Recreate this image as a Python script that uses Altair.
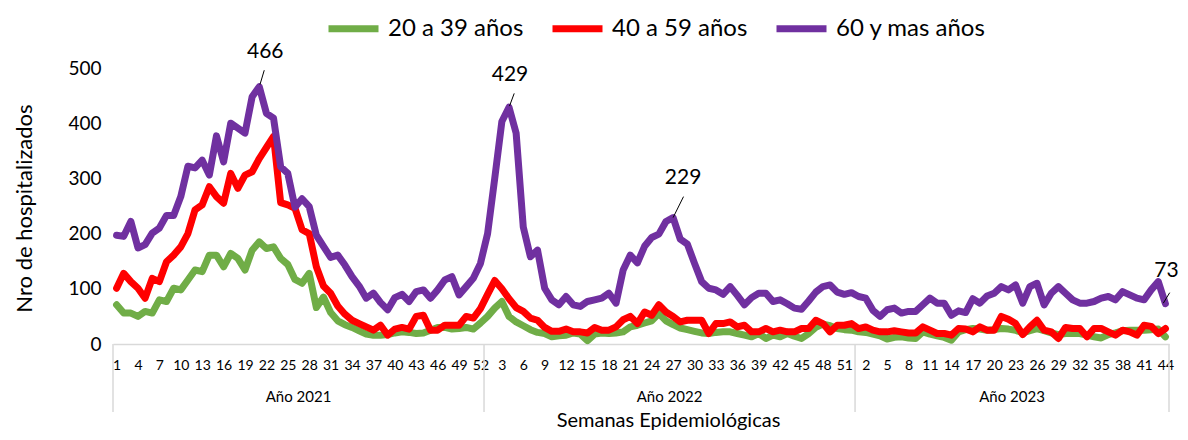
import altair as alt
import pandas as pd

# ---------------- data ----------------
year_names = ["Año 2021", "Año 2022", "Año 2023"]
year_lengths = [52, 52, 44]
weeks = [w for n in year_lengths for w in range(1, n + 1)]

series = ["20 a 39 años", "40 a 59 años", "60 y mas años"]
colors = ["#70AD47", "#FF0000", "#7030A0"]

g20 = [71, 56, 56, 50, 59, 56, 80, 77, 101, 98,
       116, 134, 131, 161, 161, 140, 164, 155, 134, 170,
       185, 173, 176, 155, 144, 117, 110, 128, 66, 85,
       57, 42, 35, 30, 24, 18, 16, 16, 17, 20,
       22, 21, 19, 20, 25, 30, 30, 27, 28, 30,
       27, 38,
       50, 65, 77, 50, 40, 33, 26, 21, 19, 13,
       15, 16, 20, 18, 6, 18, 20, 19, 20, 22,
       31, 34, 38, 42, 55, 42, 35, 29, 26, 23,
       20, 19, 21, 22, 22, 19, 16, 13, 19, 10,
       16, 13, 19, 14, 10, 19, 30, 36, 33, 28,
       26, 25,
       22, 21, 18, 15, 9, 12, 13, 11, 10, 22,
       18, 15, 12, 7, 22, 26, 28, 27, 25, 26,
       28, 27, 25, 20, 24, 28, 24, 20, 17, 19,
       19, 19, 16, 13, 11, 17, 20, 24, 25, 25,
       25, 26, 27, 13]

r40 = [101, 128, 113, 101, 83, 119, 113, 149, 161, 176,
       200, 243, 252, 285, 267, 255, 309, 282, 306, 312,
       336, 356, 376, 256, 252, 246, 207, 200, 140, 105,
       92, 69, 54, 43, 37, 31, 25, 34, 16, 27,
       30, 27, 50, 52, 25, 25, 34, 34, 34, 50,
       47, 64,
       90, 115, 100, 82, 66, 59, 47, 43, 30, 23,
       23, 27, 22, 22, 20, 30, 25, 25, 31, 44,
       50, 37, 58, 52, 71, 58, 50, 40, 43, 43,
       43, 19, 37, 37, 40, 31, 34, 22, 22, 28,
       22, 25, 22, 22, 28, 28, 43, 37, 22, 34,
       34, 37,
       28, 31, 25, 22, 22, 24, 22, 20, 20, 31,
       25, 19, 19, 16, 28, 27, 22, 31, 25, 25,
       50, 45, 37, 17, 31, 43, 25, 22, 10, 30,
       28, 28, 13, 28, 28, 22, 16, 25, 22, 16,
       34, 32, 19, 28]

p60 = [197, 195, 222, 174, 180, 201, 210, 233, 233, 267,
       322, 319, 333, 306, 377, 330, 400, 391, 382, 448,
       466, 418, 409, 321, 309, 248, 263, 249, 197, 177,
       157, 161, 143, 122, 105, 83, 92, 75, 62, 84,
       90, 77, 95, 98, 83, 98, 116, 122, 89, 104,
       119, 146,
       200, 300, 403, 429, 382, 212, 158, 170, 101, 80,
       71, 86, 71, 68, 77, 80, 83, 92, 74, 134,
       161, 147, 177, 193, 199, 222, 229, 190, 181, 146,
       113, 101, 98, 90, 104, 88, 71, 84, 92, 92,
       77, 80, 73, 65, 63, 78, 94, 104, 107, 94,
       90, 93,
       86, 83, 61, 50, 62, 65, 56, 59, 59, 71,
       83, 74, 74, 52, 60, 57, 82, 74, 87, 92,
       104, 98, 107, 74, 104, 110, 71, 92, 104, 92,
       80, 74, 74, 77, 83, 86, 80, 95, 89, 83,
       80, 98, 113, 73]

ann_idx = [20, 55, 78, 147]
ann_val = [466, 429, 229, 73]

# ---------------- layout constants ----------------
W, H = 1056, 276
FONT = "Lato"
n = len(weeks)

rows = []
for s, vals in zip(series, [g20, r40, p60]):
    for i, v in enumerate(vals):
        rows.append({"idx": i, "week": weeks[i], "serie": s, "value": v})
df = pd.DataFrame(rows)

starts = [sum(year_lengths[:k]) for k in range(len(year_lengths))]
years_df = pd.DataFrame({
    "year": year_names,
    "mid": [s + (l - 1) / 2 for s, l in zip(starts, year_lengths)],
})
bounds_df = pd.DataFrame({"b": [s - 0.5 for s in starts] + [n - 0.5]})

label_expr = "[" + ",".join(f"'{w}'" for w in weeks) + "][datum.value]"

x_scale = alt.Scale(domain=[-0.5, n - 0.5], nice=False, zero=False)
y_scale = alt.Scale(domain=[0, 500], nice=False)
color_scale = alt.Scale(domain=series, range=colors)

x_axis = alt.Axis(
    values=list(range(0, n, 3)), labelExpr=label_expr, labelOverlap=False,
    labelFontSize=14, labelPadding=14, ticks=False, grid=False,
    domainColor="#d9d9d9", domainWidth=1.5, labelFlush=False,
    title="Semanas Epidemiológicas", titleFontSize=20, titleFontWeight="normal",
    titleX=555, titleY=82, titleAlign="center", titleBaseline="alphabetic",
)
y_axis = alt.Axis(
    values=[0, 100, 200, 300, 400, 500], labelFontSize=19, labelPadding=12,
    ticks=False, grid=False, domain=False,
    title="Nro de hospitalizados", titleFontSize=22, titleFontWeight="normal",
    titleX=-89, titleY=140, titleAngle=270, titleAlign="center",
    titleBaseline="middle",
)

legend = alt.Legend(
    title=None, orient="none", legendX=212, legendY=-68, direction="horizontal",
    symbolType="stroke", symbolSize=2500, symbolStrokeWidth=7,
    labelFontSize=24, labelOffset=6, columnPadding=14, padding=0,
)

X = lambda f: alt.X(f, scale=x_scale, axis=x_axis)
Y = lambda f: alt.Y(f, scale=y_scale, axis=y_axis)

layers = []
for s in series:
    layers.append(
        alt.Chart(df).transform_filter(alt.datum.serie == s).mark_line(
            strokeWidth=7, strokeJoin="round", strokeCap="round"
        ).encode(
            x=X("idx:Q"),
            y=Y("value:Q"),
            color=alt.Color("serie:N", scale=color_scale, legend=legend),
        )
    )

# separators of the year groups below the axis
seps = alt.Chart(bounds_df).mark_rule(color="#d9d9d9", strokeWidth=1.5).encode(
    x=X("b:Q"), y=alt.value(H), y2=alt.value(H + 68)
)
year_txt = alt.Chart(years_df).mark_text(
    fontSize=15, baseline="middle", align="center", color="black"
).encode(x=X("mid:Q"), y=alt.value(H + 53), text="year:N")

# annotations
ann_style = [
    {"dx": 6, "dy": -35, "lx": (0.1, 0.7), "ly": (4, 30)},
    {"dx": 1, "dy": -32, "lx": (0.07, 0.73), "ly": (2, 25)},
    {"dx": 10, "dy": -40, "lx": (0.0, 1.46), "ly": (0, 38)},
    {"dx": 1, "dy": -33, "lx": (-0.3, 0.6), "ly": (1, 20)},
]
ann_layers = []
for i, v, st in zip(ann_idx, ann_val, ann_style):
    d = pd.DataFrame({"idx": [i], "value": [v]})
    ann_layers.append(
        alt.Chart(d).mark_text(
            fontSize=21, dx=st["dx"], dy=st["dy"], baseline="middle",
            align="center", color="black"
        ).encode(x=X("idx:Q"), y=Y("value:Q"), text="value:Q")
    )
    ann_layers.append(
        alt.Chart(d).transform_calculate(
            x1=f"datum.idx + {st['lx'][0]}", x2=f"datum.idx + {st['lx'][1]}",
            y1=f"datum.value + {st['ly'][0]}", y2=f"datum.value + {st['ly'][1]}",
        ).mark_rule(color="black", strokeWidth=1).encode(
            x=X("x1:Q"), x2="x2:Q", y=Y("y1:Q"), y2="y2:Q",
        )
    )

chart = alt.layer(seps, year_txt, *layers, *ann_layers).properties(
    width=W, height=H,
    padding={"left": 105, "top": 60, "right": 11, "bottom": 88},
    autosize=alt.AutoSizeParams(type="none"),
).configure(font=FONT).configure_view(stroke=None).configure_axis(
    labelColor="black", titleColor="black", labelFont=FONT, titleFont=FONT
).configure_legend(labelColor="black", labelFont=FONT)

chart.save("out.html", embed_options={"renderer": "svg", "actions": False})
